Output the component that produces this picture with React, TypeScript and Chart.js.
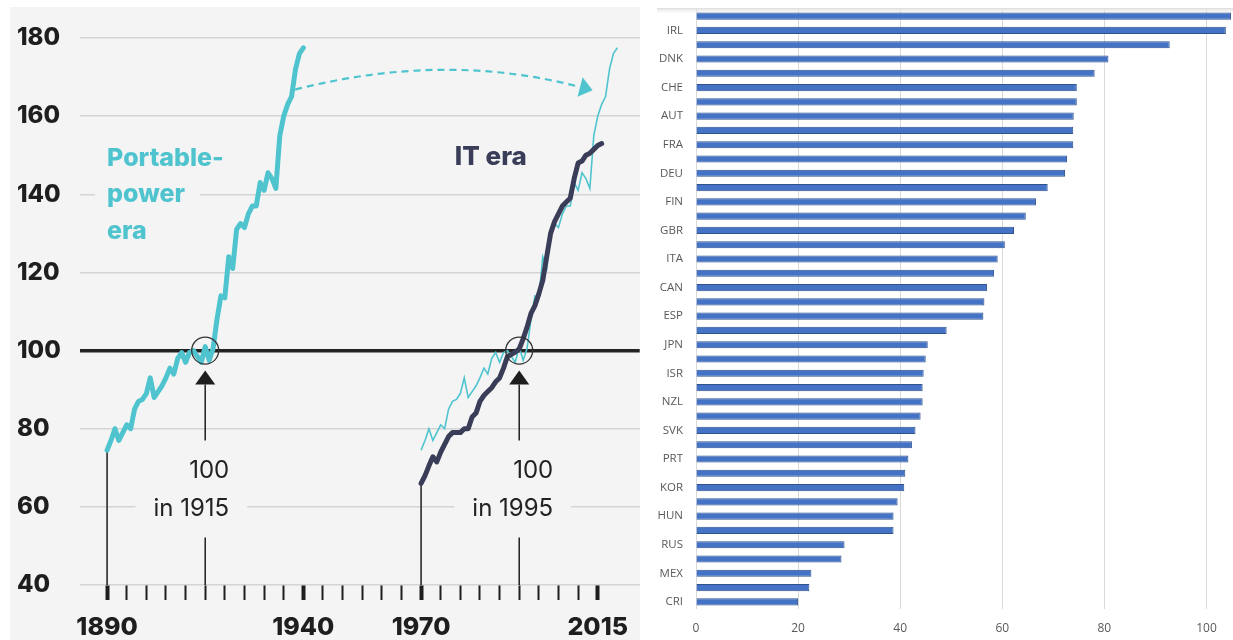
import React, { useEffect, useRef } from 'react';
import { Chart, registerables } from 'chart.js';

Chart.register(...registerables);

// ---------------- Left chart data ----------------
const portableYears = [
  1890, 1891, 1892, 1893, 1894, 1895, 1896, 1897, 1898, 1899,
  1900, 1901, 1902, 1903, 1904, 1905, 1906, 1907, 1908, 1909,
  1910, 1911, 1912, 1913, 1914, 1915, 1916, 1917, 1918, 1919,
  1920, 1921, 1922, 1923, 1924, 1925, 1926, 1927, 1928, 1929,
  1930, 1931, 1932, 1933, 1934, 1935, 1936, 1937, 1938, 1939, 1940,
];
const portableIndex = [
  74.5, 77, 80, 77, 79, 81, 80, 85, 87, 87.5,
  89, 93, 88, 89.5, 91, 93, 95.5, 94, 98, 99.5,
  97, 99.5, 100, 98.5, 97, 101, 97.5, 100.5, 108, 114,
  113.5, 124, 121, 131, 132.5, 131.5, 135, 137, 137, 143,
  141, 145.5, 144, 141.5, 155, 160, 163, 165, 172, 176, 177.5,
];
const itYears = [
  1970, 1971, 1972, 1973, 1974, 1975, 1976, 1977, 1978, 1979,
  1980, 1981, 1982, 1983, 1984, 1985, 1986, 1987, 1988, 1989,
  1990, 1991, 1992, 1993, 1994, 1995, 1996, 1997, 1998, 1999,
  2000, 2001, 2002, 2003, 2004, 2005, 2006, 2007, 2008, 2009,
  2010, 2011, 2012, 2013, 2014, 2015, 2016,
];
const itIndex = [
  66, 68, 70.5, 72.8, 71.5, 74, 76, 78, 79, 79,
  79, 80, 80, 83, 84, 87, 88.5, 89.5, 90.5, 92,
  93, 95.5, 98.5, 99, 99.6, 100.4, 103, 106, 109.5, 111.5,
  114.5, 118, 124, 130, 133, 135, 137, 138, 139, 144,
  148, 148.5, 150, 150.5, 151.5, 152.5, 153,
];
// the portable-power era re-plotted 80 years later for comparison
const overlayShiftYears = 80;

const yTickStep = 20;
const yMin = 40;
const yMax = 180;
const xTickYears = [
  1890, 1895, 1900, 1905, 1910, 1915, 1920, 1925, 1930, 1935, 1940,
  1945, 1950, 1955, 1960, 1965, 1970, 1975, 1980, 1985, 1990, 1995,
  2000, 2005, 2010, 2015,
];
const xLabelYears = [1890, 1940, 1970, 2015];
const baseYears = [1915, 1995];
const baseLabel = '100';
const eraPortableLines = ['Portable-', 'power', 'era'];
const eraItLabel = 'IT era';

// ---------------- Right chart data ----------------
const countries = [
  'LUX', 'IRL', 'NOR', 'DNK', 'USA', 'CHE', 'BEL', 'AUT', 'NLD', 'FRA',
  'SWE', 'DEU', 'AUS', 'FIN', 'ISL', 'GBR', 'OECD', 'ITA', 'SVN', 'CAN',
  'LTU', 'ESP', 'CZE', 'JPN', 'EST', 'ISR', 'LVA', 'NZL', 'POL', 'SVK',
  'TUR', 'PRT', 'GRC', 'KOR', 'CHL', 'HUN', 'HRV', 'RUS', 'BGR', 'MEX',
  'COL', 'CRI',
];
const productivity = [
  104.8, 103.8, 92.8, 80.8, 78.1, 74.6, 74.6, 74.0, 73.9, 73.9,
  72.7, 72.3, 68.9, 66.6, 64.6, 62.3, 60.5, 59.1, 58.4, 57.0,
  56.5, 56.3, 49.1, 45.4, 45.0, 44.6, 44.4, 44.4, 44.0, 43.0,
  42.3, 41.6, 41.0, 40.8, 39.5, 38.7, 38.7, 29.1, 28.5, 22.6,
  22.2, 20.0,
];
const barTickStep = 20;

// ---------------- styles ----------------
const LEFT_BG = '#f4f4f4';
const CYAN = '#4fc4cf';
const NAVY = '#3a3d58';
const INK = '#1e1e1e';
const FONT = 'Inter, "DejaVu Sans", sans-serif';

// annotation placement (data space)
const ann = {
  portableTextYear: 1890,
  portableTextValues: [149.2, 140, 130.5],
  itTextYear: 1978.6,
  itTextValue: 149.5,
  arrowStart: [1937.9, 166.8],
  arrowCtrl: [1976, 176.6],
  arrowEnd: [2013.7, 166.6],
  baseTextOffsets: [24, 34],
};

const leftOverlay = {
  id: 'leftOverlay',
  beforeDatasetsDraw(chart: any) {
    const { ctx } = chart;
    const x = chart.scales.x;
    const y = chart.scales.y;
    const base = y.getPixelForValue(yMin);
    const y100 = y.getPixelForValue(100);
    ctx.save();
    ctx.strokeStyle = INK;
    ctx.fillStyle = INK;
    ctx.lineWidth = 1.5;
    // leader lines from series starts down to axis
    const starts = [
      [portableYears[0], portableIndex[0]],
      [itYears[0], itIndex[0]],
    ];
    for (const [yr, v] of starts) {
      const px = x.getPixelForValue(yr);
      ctx.beginPath();
      ctx.moveTo(px, y.getPixelForValue(v));
      ctx.lineTo(px, base);
      ctx.stroke();
    }
    // base-year markers
    baseYears.forEach((yr, i) => {
      const px = x.getPixelForValue(yr);
      const tip = y100 + 20;
      ctx.fillStyle = INK;
      ctx.beginPath();
      ctx.moveTo(px, tip);
      ctx.lineTo(px - 10, tip + 14);
      ctx.lineTo(px + 10, tip + 14);
      ctx.closePath();
      ctx.fill();
      ctx.beginPath();
      ctx.moveTo(px, tip + 14);
      ctx.lineTo(px, y100 + 90);
      ctx.stroke();
      ctx.beginPath();
      ctx.moveTo(px, y100 + 187);
      ctx.lineTo(px, base);
      ctx.stroke();
      ctx.font = `400 24px ${FONT}`;
      ctx.textAlign = 'right';
      ctx.textBaseline = 'middle';
      const right = px + ann.baseTextOffsets[i];
      const lines: [string, number][] = [
        [baseLabel, y100 + 120],
        [`in ${yr}`, y100 + 158],
      ];
      for (const [t, cy] of lines) {
        const w = ctx.measureText(t).width;
        ctx.fillStyle = LEFT_BG;
        ctx.fillRect(right - w - 18, cy - 15, w + 36, 30);
        ctx.fillStyle = '#222';
        ctx.fillText(t, right, cy);
      }
    });
    // portable-power era label
    ctx.font = `800 25px ${FONT}`;
    ctx.textAlign = 'left';
    ctx.textBaseline = 'middle';
    const lx = x.getPixelForValue(ann.portableTextYear);
    eraPortableLines.forEach((t, i) => {
      const cy = y.getPixelForValue(ann.portableTextValues[i]);
      const w = ctx.measureText(t).width;
      ctx.fillStyle = LEFT_BG;
      ctx.fillRect(lx - 12, cy - 15, w + 27, 30);
      ctx.fillStyle = CYAN;
      ctx.fillText(t, lx, cy);
    });
    ctx.restore();
  },
  afterDatasetsDraw(chart: any) {
    const { ctx } = chart;
    const x = chart.scales.x;
    const y = chart.scales.y;
    ctx.save();
    // circles
    ctx.strokeStyle = '#333';
    ctx.lineWidth = 1.3;
    for (const yr of baseYears) {
      ctx.beginPath();
      ctx.arc(x.getPixelForValue(yr), y.getPixelForValue(100), 13.5, 0, Math.PI * 2);
      ctx.stroke();
    }
    // dashed arrow
    const p0 = { x: x.getPixelForValue(ann.arrowStart[0]), y: y.getPixelForValue(ann.arrowStart[1]) };
    const c = { x: x.getPixelForValue(ann.arrowCtrl[0]), y: y.getPixelForValue(ann.arrowCtrl[1]) };
    const p2 = { x: x.getPixelForValue(ann.arrowEnd[0]), y: y.getPixelForValue(ann.arrowEnd[1]) };
    const ang = Math.atan2(p2.y - c.y, p2.x - c.x);
    const L = 13;
    const H = 10;
    const bx = p2.x - L * Math.cos(ang);
    const by = p2.y - L * Math.sin(ang);
    ctx.strokeStyle = CYAN;
    ctx.lineWidth = 2.2;
    ctx.setLineDash([7, 5]);
    ctx.beginPath();
    ctx.moveTo(p0.x, p0.y);
    ctx.quadraticCurveTo(c.x, c.y, bx, by);
    ctx.stroke();
    ctx.setLineDash([]);
    ctx.fillStyle = CYAN;
    ctx.beginPath();
    ctx.moveTo(p2.x, p2.y);
    ctx.lineTo(bx - H * Math.sin(ang), by + H * Math.cos(ang));
    ctx.lineTo(bx + H * Math.sin(ang), by - H * Math.cos(ang));
    ctx.closePath();
    ctx.fill();
    // IT era label
    ctx.font = `800 26px ${FONT}`;
    ctx.fillStyle = NAVY;
    ctx.textAlign = 'left';
    ctx.textBaseline = 'middle';
    ctx.fillText(eraItLabel, x.getPixelForValue(ann.itTextYear), y.getPixelForValue(ann.itTextValue));
    ctx.restore();
  },
};

const rightTopBand = {
  id: 'rightTopBand',
  beforeDatasetsDraw(chart: any) {
    const { ctx, chartArea } = chart;
    ctx.save();
    const g = ctx.createLinearGradient(0, 0, 0, 7);
    g.addColorStop(0, '#dcdcdc');
    g.addColorStop(1, 'rgba(255,255,255,0)');
    ctx.fillStyle = g;
    ctx.fillRect(16, 0, chartArea.right - 16, 7);
    ctx.restore();
  },
};

export default function App() {
  const leftRef = useRef<HTMLCanvasElement>(null);
  const rightRef = useRef<HTMLCanvasElement>(null);

  useEffect(() => {
    const left = new Chart(leftRef.current as HTMLCanvasElement, {
      type: 'line',
      data: {
        datasets: [
          {
            label: 'IT era',
            data: itYears.map((yr, i) => ({ x: yr, y: itIndex[i] })),
            borderColor: NAVY,
            borderWidth: 5,
            pointRadius: 0,
            borderCapStyle: 'round',
            borderJoinStyle: 'round',
            tension: 0,
          },
          {
            label: 'Portable-power era',
            data: portableYears.map((yr, i) => ({ x: yr, y: portableIndex[i] })),
            borderColor: CYAN,
            borderWidth: 5,
            pointRadius: 0,
            borderCapStyle: 'round',
            borderJoinStyle: 'round',
            tension: 0,
          },
          {
            label: 'Portable-power era (shifted)',
            data: portableYears.map((yr, i) => ({ x: yr + overlayShiftYears, y: portableIndex[i] })),
            borderColor: CYAN,
            borderWidth: 1.6,
            pointRadius: 0,
            tension: 0,
          },
        ],
      } as any,
      options: {
        animation: false,
        responsive: true,
        maintainAspectRatio: false,
        layout: { padding: { top: 31, left: 7, right: 0, bottom: 0 } },
        plugins: { legend: { display: false }, tooltip: { enabled: false } },
        scales: {
          x: {
            type: 'linear',
            min: 1883.1,
            max: 2025.7,
            afterBuildTicks: (s: any) => {
              s.ticks = xTickYears.map((v) => ({ value: v }));
            },
            afterFit: (s: any) => {
              s.height = 55;
            },
            border: { display: false },
            grid: {
              drawOnChartArea: false,
              drawTicks: true,
              tickLength: 15,
              tickColor: INK,
              tickWidth: (c: any) => (c.tick && xLabelYears.includes(c.tick.value) ? 4 : 2),
            },
            ticks: {
              autoSkip: false,
              maxRotation: 0,
              minRotation: 0,
              padding: 12,
              color: INK,
              font: { family: FONT, size: 25, weight: '800' },
              callback: (v: any) => (xLabelYears.includes(Number(v)) ? String(v) : ''),
            },
          },
          y: {
            min: yMin,
            max: yMax,
            afterFit: (s: any) => {
              s.width = 63;
            },
            border: { display: false },
            grid: {
              drawTicks: false,
              color: (c: any) => (c.tick && c.tick.value === 100 ? '#222' : '#d4d4d4'),
              lineWidth: (c: any) => (c.tick && c.tick.value === 100 ? 3.5 : 1.5),
            },
            ticks: {
              stepSize: yTickStep,
              crossAlign: 'far',
              color: INK,
              font: { family: FONT, size: 24, weight: '800' },
            },
          },
        },
      } as any,
      plugins: [leftOverlay],
    });

    const right = new Chart(rightRef.current as HTMLCanvasElement, {
      type: 'bar',
      data: {
        labels: countries,
        datasets: [
          {
            label: 'GDP per hour worked',
            data: productivity,
            backgroundColor: '#4472c4',
            borderColor: '#2f528f',
            borderWidth: 1,
            barPercentage: 0.5,
            categoryPercentage: 1,
          },
        ],
      },
      options: {
        indexAxis: 'y',
        animation: false,
        responsive: true,
        maintainAspectRatio: false,
        layout: { padding: { top: 1, right: 0, left: 0, bottom: 0 } },
        plugins: { legend: { display: false }, tooltip: { enabled: false } },
        scales: {
          x: {
            min: 0,
            max: 105.2,
            afterFit: (s: any) => {
              s.height = 31;
              s.paddingLeft = 0;
              s.paddingRight = 0;
            },
            border: { display: false },
            grid: { color: '#d9d9d9', drawTicks: false },
            ticks: {
              stepSize: barTickStep,
              includeBounds: false,
              padding: 12,
              color: '#595959',
              font: { family: '"Open Sans", sans-serif', size: 12 },
            },
          },
          y: {
            afterFit: (s: any) => {
              s.width = 55;
              s.paddingTop = 0;
              s.paddingBottom = 0;
            },
            border: { display: false },
            grid: { display: false, drawTicks: false },
            ticks: {
              autoSkip: false,
              padding: 13,
              color: '#595959',
              font: { family: '"Open Sans", sans-serif', size: 11.5 },
              callback: (_v: any, i: number) => (i % 2 === 1 ? countries[i] : ''),
            },
          },
        },
      } as any,
      plugins: [rightTopBand],
    });

    return () => {
      left.destroy();
      right.destroy();
    };
  }, []);

  return (
    <div
      style={{
        position: 'absolute',
        left: 0,
        top: 0,
        width: 1233,
        height: 640,
        overflow: 'hidden',
        background: '#ffffff',
      }}
    >
      <div style={{ position: 'absolute', left: 10, top: 7, width: 630, height: 633, background: LEFT_BG }}>
        <canvas ref={leftRef} />
      </div>
      <div style={{ position: 'absolute', left: 641, top: 8, width: 592, height: 632 }}>
        <canvas ref={rightRef} />
      </div>
    </div>
  );
}
